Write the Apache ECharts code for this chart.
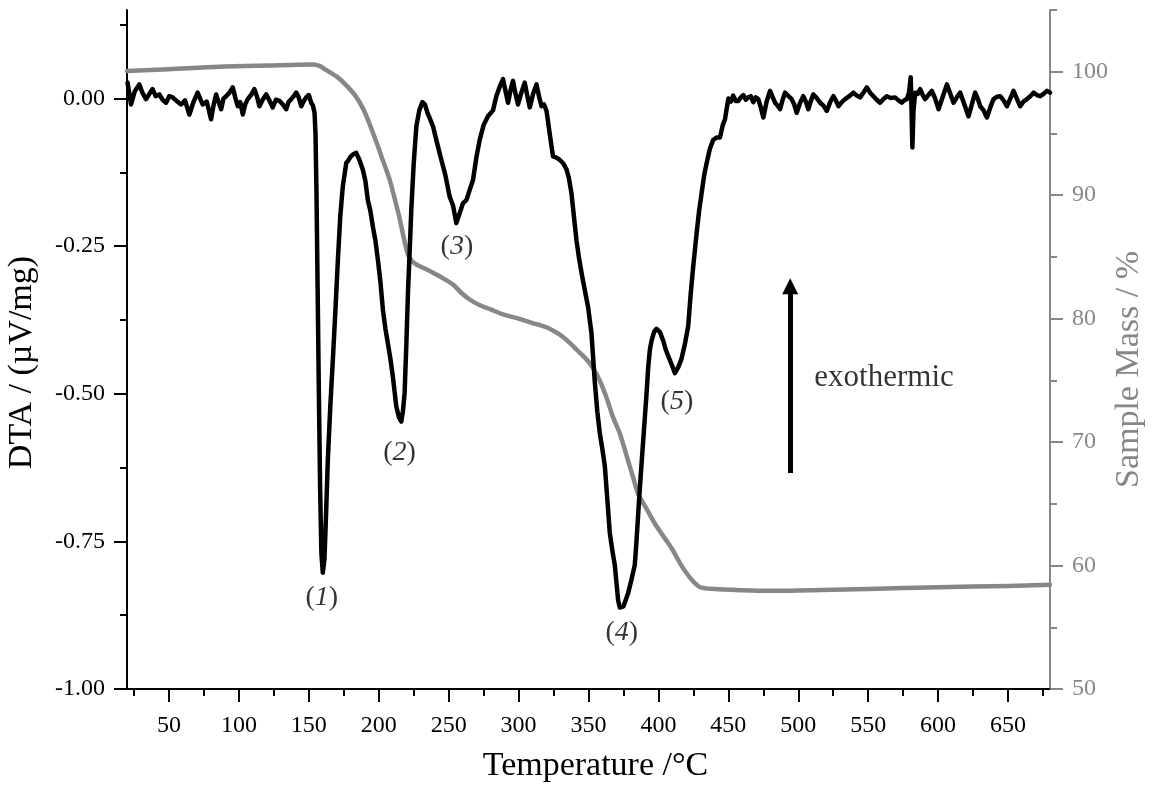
<!DOCTYPE html>
<html>
<head>
<meta charset="utf-8">
<script src="https://cdn.jsdelivr.net/npm/echarts@6/dist/echarts.min.js"></script>
<style>
html,body{margin:0;padding:0;background:#fff;}
#chart{width:1162px;height:789px;}
</style>
</head>
<body>
<div id="chart"></div>
<script>
// ---- DTA curve (temperature °C, µV/mg) ----
const dtaT = [20.4,22.9,25.5,28.8,31,33.6,36,38.3,40.5,43.1,45.5,47.9,50.2,52.6,55.5,58.7,61.5,64.6,67.5,70.5,72.3,74.1,77,80.1,82,83.7,85.5,87.3,89,90.9,93.3,95.6,97.4,99.2,101,102.8,104.5,106.3,108.7,111.1,113,114.7,117,119.5,122,124.2,126.5,129,131.5,133.8,135.5,137.4,139.2,141,142.8,144.6,146.4,148.1,150,151.7,153,154.1,
154.8,155.5,156.3,157.2,158.1,159.0,160.0,161.2,162.4,163.6,165.4,167.2,169,170.8,172.5,174.3,176.8,178.5,180,182,183.9,186.2,188.7,190.5,192.2,194,195.8,197.6,199.4,201.2,203.0,204.8,206.5,208.3,210.1,212.6,214.5,216.1,217.3,218.5,219.7,220.9,222.1,223.3,225,226.9,229,231.2,233,235,236.8,238.8,241.7,244.8,247.7,250.7,253.1,255.5,257.9,260.3,262.7,265,267.4,269.8,272.2,275,278.1,281.7,284.1,286.5,288.9,290.7,292.5,294.3,296,297.8,299.6,302,304.4,306.2,308,310.4,312.8,314.6,316.4,318.2,320,322.3,324.6,327,329.5,332,334.3,336,337.8,339.6,341.4,343.2,345,347.4,349.7,352.1,354.5,356.3,358.1,360,361.7,363.5,365.2,367,368.8,370,371.2,372.4,373.6,375,376.5,378.3,380.7,383.1,384.3,385.5,386.7,387.9,389.1,390.3,391.5,392.7,393.9,395.1,396.9,398.7,401,403.4,405.2,407,409.4,411.8,414.2,416.6,419,421.3,423.1,424.9,427.3,429.1,430.9,432.7,434.5,436.8,439.2,441.6,444,446,447.6,450,
451.8,453.5,455.3,457.1,459,460.7,462.5,464.2,466,467.8,469.6,471.4,473.2,475,477.4,479.8,481.6,483.4,485.2,487,488.8,490.5,493,495.3,497.1,498.9,501.2,503.6,505.4,507.2,509,510.8,513.2,515.6,518,520.4,522.8,525.1,526.9,528.7,531.1,533.5,536.5,539.4,541.8,544.2,546.6,549,551.4,553.7,556.1,558.5,560.9,563.3,566.2,569.2,571.6,574,575.8,577.6,579.2,580.4,581.0,581.6,582.4,583.6,585.4,587.2,589,590.7,593.1,595.5,597.9,600.3,603.3,606.3,608.7,611,613.4,615.8,618.8,621.7,624.1,626.5,628.3,630.1,632.5,634.9,637.3,639.6,642,644.4,646.8,649.2,651.6,653.9,656.3,658.7,661.1,663.5,665.9,668.2,670.6,673,675.4,677.8,680];
const dtaV = [0.027,-0.010,0.012,0.024,0.010,-0.001,0.008,0.016,0.004,0.007,-0.002,-0.007,0.004,0.002,-0.004,-0.010,-0.003,-0.027,-0.006,0.010,0.000,-0.010,-0.005,-0.035,-0.010,0.007,-0.006,-0.018,0.000,0.004,0.010,0.019,0.002,-0.013,-0.006,-0.027,-0.010,-0.001,0.006,0.016,0.003,-0.013,-0.002,0.007,-0.004,-0.015,-0.002,-0.004,-0.010,-0.018,-0.006,-0.001,0.004,0.010,0.002,-0.013,-0.004,0.002,0.006,-0.007,-0.012,-0.024,
-0.06,-0.16,-0.32,-0.50,-0.66,-0.77,-0.803,-0.78,-0.70,-0.612,-0.52,-0.442,-0.36,-0.273,-0.20,-0.149,-0.109,-0.104,-0.098,-0.094,-0.092,-0.104,-0.121,-0.14,-0.172,-0.19,-0.217,-0.24,-0.273,-0.31,-0.358,-0.39,-0.414,-0.44,-0.471,-0.522,-0.54,-0.547,-0.53,-0.499,-0.42,-0.329,-0.26,-0.188,-0.11,-0.047,-0.02,-0.006,-0.01,-0.025,-0.035,-0.047,-0.075,-0.104,-0.13,-0.166,-0.181,-0.211,-0.194,-0.177,-0.172,-0.155,-0.138,-0.10,-0.07,-0.045,-0.03,-0.02,0.004,0.020,0.033,0.012,-0.007,0.015,0.030,0.008,-0.010,0.010,0.027,0.005,-0.015,0.008,0.024,0.004,-0.013,-0.01,-0.021,-0.06,-0.098,-0.10,-0.104,-0.11,-0.12,-0.135,-0.16,-0.20,-0.24,-0.27,-0.295,-0.325,-0.353,-0.397,-0.48,-0.53,-0.567,-0.595,-0.623,-0.68,-0.735,-0.765,-0.79,-0.82,-0.85,-0.862,-0.864,-0.86,-0.85,-0.838,-0.815,-0.79,-0.75,-0.705,-0.66,-0.62,-0.58,-0.54,-0.50,-0.455,-0.425,-0.41,-0.395,-0.39,-0.395,-0.41,-0.425,-0.436,-0.45,-0.465,-0.455,-0.44,-0.415,-0.385,-0.33,-0.284,-0.228,-0.19,-0.16,-0.13,-0.109,-0.085,-0.07,-0.066,-0.066,-0.045,-0.035,0.000,
-0.005,0.005,-0.004,-0.004,0.002,0.006,-0.002,0.002,0.004,-0.006,0.002,-0.001,-0.015,-0.032,-0.005,0.013,0.003,-0.007,-0.012,-0.018,-0.002,0.010,0.004,-0.001,-0.010,-0.024,-0.008,0.004,-0.005,-0.018,-0.004,0.007,0.001,-0.007,-0.012,-0.021,-0.006,0.004,-0.003,-0.013,-0.006,-0.001,0.004,0.010,0.005,0.002,0.010,0.019,0.010,0.004,-0.002,-0.007,-0.001,0.004,0.001,0.002,-0.003,-0.007,-0.003,-0.001,0.010,0.036,-0.02,-0.083,-0.02,0.010,0.008,0.016,0.006,-0.001,0.006,0.013,0.000,-0.018,0.003,0.024,0.008,-0.007,0.002,0.010,-0.010,-0.030,-0.010,0.010,0.000,-0.013,-0.020,-0.032,-0.015,-0.001,0.003,0.004,-0.003,-0.013,0.000,0.013,0.000,-0.013,-0.005,-0.001,0.004,0.010,0.006,0.004,0.008,0.013,0.010];

// ---- Sample mass curve (temperature °C, %) ----
const massT = [20,50,86,120,153,158,162.5,170,176.8,183,188.7,193,198.2,203,207.8,211,214.9,218,220.9,223.5,226.9,234,241.2,247,253.1,259,265,272,280,288.9,300,312.8,320,329.5,336,341.4,348.6,353.3,358,362.9,367.6,372.4,378,382,385.5,391.5,398,405.8,410,415.4,420,425,429.6,440,460,480,500,550,600,650,680];
const massV = [100.05,100.2,100.4,100.5,100.58,100.45,100.13,99.6,98.9,98.1,97.03,95.9,94.34,92.8,91.26,89.9,88.14,86.5,85.19,84.7,84.38,84.0,83.57,83.2,82.76,82.1,81.55,81.1,80.75,80.34,80.0,79.55,79.3,78.7,78.1,77.5,76.7,76.0,75.0,73.6,72.0,70.7,68.6,67.1,65.8,64.6,63.3,62.0,61.3,60.2,59.4,58.7,58.26,58.1,58.0,57.95,57.98,58.1,58.25,58.35,58.45];

// ---- tick values ----
const xTicks = [50,100,150,200,250,300,350,400,450,500,550,600,650];
const xMinorTicks = [25,75,125,175,225,275,325,375,425,475,525,575,625,675];
const dtaTicks = [-1,-0.75,-0.5,-0.25,0];
const dtaMinorTicks = [-0.875,-0.625,-0.375,-0.125,0.125];
const massTicks = [50,60,70,80,90,100];
const massMinorTicks = [55,65,75,85,95,105];

// ---- annotations ----
const peakNames = ['1','2','3','4','5'];
const peakT = [159.3,214.9,255.9,373.8,413.2];
const peakV = [-0.846,-0.600,-0.251,-0.905,-0.514];
const noteText = ['exothermic'];
const noteT = [511.5];
const noteV = [-0.473];
const arrowT = [494.2];
const arrowV = [-0.634,-0.318];

const FONT = '"Liberation Serif","DejaVu Serif",serif';
const GRAY = '#878787';

const chart = echarts.init(document.getElementById('chart'), null, {renderer:'canvas'});

const peakData = peakNames.map((n,i)=>[peakT[i], peakV[i], n]);
const noteData = noteText.map((n,i)=>[noteT[i], noteV[i], n]);

const option = {
  animation:false,
  backgroundColor:'#fff',
  grid:{left:127,right:112,top:10,bottom:100,containLabel:false,outerBoundsMode:'none'},
  xAxis:[{
    type:'value',min:20,max:680,position:'bottom',
    name:'Temperature /°C',nameLocation:'middle',nameGap:60,nameMoveOverlap:false,
    nameTextStyle:{fontFamily:FONT,fontSize:34,color:'#000',padding:[0,0,0,14]},
    axisLine:{show:true,onZero:false,lineStyle:{color:'#000',width:2}},
    axisTick:{show:true,inside:false,length:13,lineStyle:{color:'#000',width:2},customValues:xTicks},
    axisLabel:{show:true,margin:25,fontFamily:FONT,fontSize:24,color:'#000',customValues:xTicks},
    splitLine:{show:false}
  },{
    type:'value',min:20,max:680,position:'bottom',
    axisLine:{show:false,onZero:false},
    axisTick:{show:true,inside:false,length:7,lineStyle:{color:'#000',width:2},customValues:xMinorTicks},
    axisLabel:{show:false},
    splitLine:{show:false}
  }],
  yAxis:[{
    type:'value',min:-1,max:0.15,position:'left',
    name:'DTA / (µV/mg)',nameLocation:'middle',nameGap:88,nameMoveOverlap:false,
    nameTextStyle:{fontFamily:FONT,fontSize:34,color:'#000',padding:[0,26,0,0]},
    axisLine:{show:true,onZero:false,lineStyle:{color:'#000',width:2}},
    axisTick:{show:true,inside:false,length:13,lineStyle:{color:'#000',width:2},customValues:dtaTicks},
    axisLabel:{show:true,margin:22,fontFamily:FONT,fontSize:24,color:'#000',customValues:dtaTicks,
      formatter:v=>v.toFixed(2)},
    splitLine:{show:false}
  },{
    type:'value',min:50,max:105,position:'right',
    name:'Sample Mass / %',nameLocation:'middle',nameGap:62,nameMoveOverlap:false,
    nameTextStyle:{fontFamily:FONT,fontSize:34,color:GRAY,padding:[0,40,0,0]},
    axisLine:{show:true,onZero:false,lineStyle:{color:GRAY,width:2}},
    axisTick:{show:true,inside:false,length:13,lineStyle:{color:GRAY,width:2},customValues:massTicks},
    axisLabel:{show:true,margin:22,fontFamily:FONT,fontSize:24,color:GRAY,customValues:massTicks},
    splitLine:{show:false}
  },{
    type:'value',min:-1,max:0.15,position:'left',
    axisLine:{show:false,onZero:false},
    axisTick:{show:true,inside:false,length:7,lineStyle:{color:'#000',width:2},customValues:dtaMinorTicks},
    axisLabel:{show:false},
    splitLine:{show:false}
  },{
    type:'value',min:50,max:105,position:'right',
    axisLine:{show:false,onZero:false},
    axisTick:{show:true,inside:false,length:7,lineStyle:{color:GRAY,width:2},customValues:massMinorTicks},
    axisLabel:{show:false},
    splitLine:{show:false}
  }],
  series:[{
    name:'Sample Mass',type:'line',xAxisIndex:0,yAxisIndex:1,
    data:massT.map((t,i)=>[t,massV[i]]),
    showSymbol:false,symbol:'none',smooth:0.3,
    lineStyle:{color:GRAY,width:4.5,cap:'round',join:'round'},
    z:2
  },{
    name:'DTA',type:'line',xAxisIndex:0,yAxisIndex:0,
    data:dtaT.map((t,i)=>[t,dtaV[i]]),
    showSymbol:false,symbol:'none',smooth:false,
    lineStyle:{color:'#000',width:4.5,cap:'round',join:'round'},
    z:3
  },{
    name:'peaks',type:'scatter',xAxisIndex:0,yAxisIndex:0,
    data:peakData,symbolSize:1,itemStyle:{color:'transparent'},silent:true,
    label:{show:true,position:'inside',align:'center',verticalAlign:'middle',
      formatter:p=>'{p|(}{n|'+p.data[2]+'}{p|)}',
      rich:{
        p:{fontFamily:FONT,fontSize:28,color:'#000'},
        n:{fontFamily:FONT,fontSize:28,fontStyle:'italic',color:'#000'}
      }},
    z:4
  },{
    name:'note',type:'scatter',xAxisIndex:0,yAxisIndex:0,
    data:noteData,symbolSize:1,itemStyle:{color:'transparent'},silent:true,
    label:{show:true,position:'inside',align:'left',verticalAlign:'middle',
      formatter:p=>p.data[2],fontFamily:FONT,fontSize:31,color:'#000'},
    markLine:{
      silent:true,animation:false,
      symbol:['none','triangle'],symbolSize:16,
      label:{show:false},
      lineStyle:{color:'#000',width:5,type:'solid'},
      data:[[{coord:[arrowT[0],arrowV[0]]},{coord:[arrowT[0],arrowV[1]]}]]
    },
    z:4
  }]
};
chart.setOption(option);
</script>
</body>
</html>
